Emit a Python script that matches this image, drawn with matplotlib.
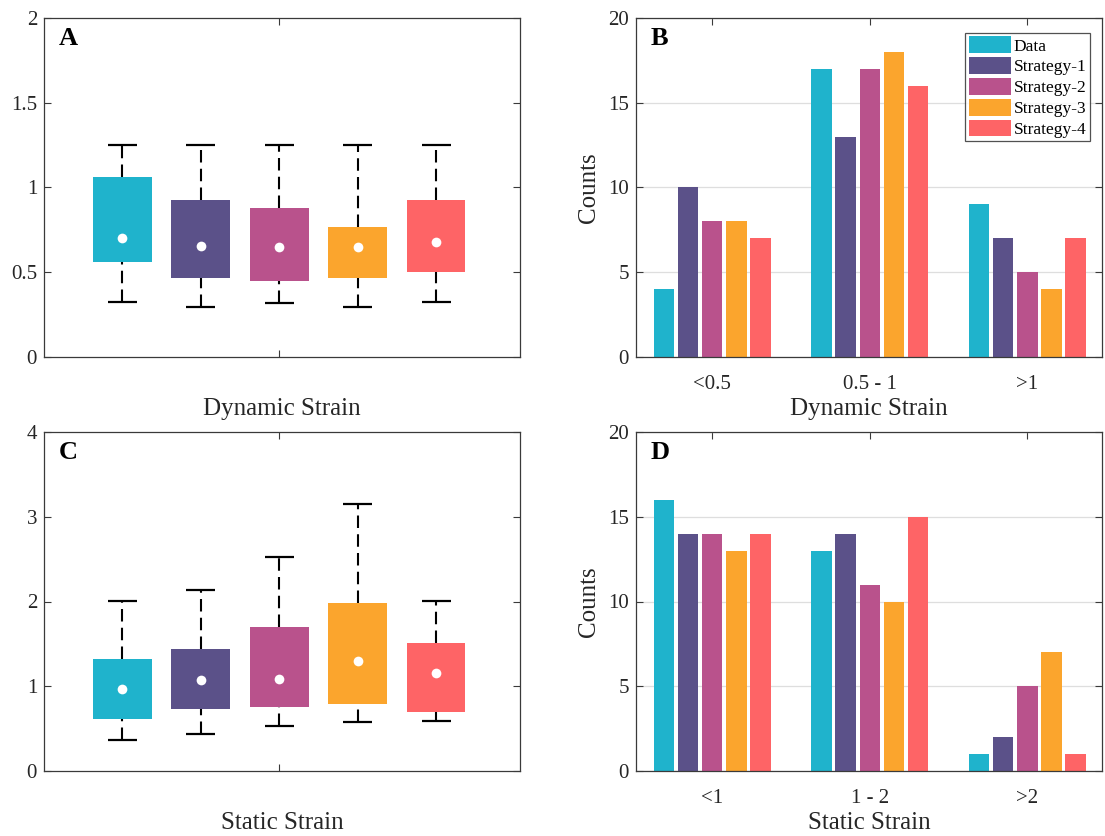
import numpy as np
import matplotlib
matplotlib.use("Agg")
import matplotlib.pyplot as plt

plt.rcParams['font.family'] = ['Liberation Serif', 'DejaVu Serif']

series_names = ["Data", "Strategy-1", "Strategy-2", "Strategy-3", "Strategy-4"]
colors = ["#1fb3cc", "#5b5189", "#b9528c", "#fba52d", "#fe6466"]

# Panel A: dynamic strain box stats
dyn_whislo = [0.325, 0.297, 0.32, 0.297, 0.325]
dyn_q1 = [0.56, 0.468, 0.45, 0.468, 0.503]
dyn_q3 = [1.06, 0.926, 0.879, 0.767, 0.926]
dyn_whishi = [1.25, 1.25, 1.25, 1.25, 1.25]
dyn_mean = [0.70, 0.657, 0.651, 0.651, 0.678]

# Panel C: static strain box stats
sta_whislo = [0.37, 0.44, 0.533, 0.584, 0.595]
sta_q1 = [0.615, 0.726, 0.761, 0.785, 0.70]
sta_q3 = [1.325, 1.44, 1.696, 1.988, 1.515]
sta_whishi = [2.01, 2.14, 2.53, 3.15, 2.01]
sta_mean = [0.967, 1.077, 1.089, 1.30, 1.16]

# Panel B: dynamic strain counts
dyn_bins = ["<0.5", "0.5 - 1", ">1"]
dyn_counts = {
    "Data": [4, 17, 9],
    "Strategy-1": [10, 13, 7],
    "Strategy-2": [8, 17, 5],
    "Strategy-3": [8, 18, 4],
    "Strategy-4": [7, 16, 7],
}
# Panel D: static strain counts
sta_bins = ["<1", "1 - 2", ">2"]
sta_counts = {
    "Data": [16, 13, 1],
    "Strategy-1": [14, 14, 2],
    "Strategy-2": [14, 11, 5],
    "Strategy-3": [13, 10, 7],
    "Strategy-4": [14, 15, 1],
}

W, H = 1105, 836
fig = plt.figure(figsize=(W / 100, H / 100), dpi=100)

def ax_at(l, t, r, b):
    return fig.add_axes([l / W, 1 - b / H, (r - l) / W, (b - t) / H])

axA = ax_at(44, 18, 520, 357)
axB = ax_at(636, 18, 1102, 357)
axC = ax_at(44, 432, 520, 771)
axD = ax_at(636, 432, 1102, 771)

TICK_FS = 15
LABEL_FS = 18
SPINE_C = "#3a3a3a"
TEXT_C = "#262626"

def style(ax):
    for s in ax.spines.values():
        s.set_color(SPINE_C)
        s.set_linewidth(0.9)
    ax.tick_params(direction='in', top=True, right=True, length=5, width=0.8,
                   color=SPINE_C, labelsize=TICK_FS, labelcolor=TEXT_C)
    ax.tick_params(axis='x', pad=13)
    ax.tick_params(axis='y', pad=5)

def boxpanel(ax, lo, q1, q3, hi, mean, ymax, yticks, ylabels, xlabel, letter):
    pos = np.arange(1, len(lo) + 1)
    bw = 0.75
    cw = 0.37
    ax.bar(pos, np.array(q3) - np.array(q1), bottom=q1, width=bw, color=colors,
           edgecolor='none', zorder=2)
    ax.vlines(pos, q3, hi, colors='black', linestyles=(0, (6, 3)), linewidth=1.5, zorder=1)
    ax.vlines(pos, lo, q1, colors='black', linestyles=(0, (6, 3)), linewidth=1.5, zorder=1)
    ax.hlines(hi, pos - cw / 2, pos + cw / 2, colors='black', linewidth=1.6, zorder=3)
    ax.hlines(lo, pos - cw / 2, pos + cw / 2, colors='black', linewidth=1.6, zorder=3)
    ax.plot(pos, mean, 'o', color='white', markersize=7, markeredgewidth=0, zorder=4)
    ax.set_xlim(0, 6.07)
    ax.set_ylim(0, ymax)
    ax.set_xticks([3])
    ax.set_xticklabels([""])
    ax.set_yticks(yticks)
    ax.set_yticklabels(ylabels)
    ax.set_xlabel(xlabel, fontsize=LABEL_FS, color=TEXT_C)
    ax.xaxis.set_label_coords(0.5, -0.121)
    ax.text(0.032, 0.973, letter, transform=ax.transAxes, fontsize=19,
            fontweight='bold', va='top', ha='left', color='black')
    style(ax)

def barpanel(ax, bins, counts, xlabel, letter, legend=False):
    x = np.arange(1, len(bins) + 1)
    step = 0.153
    bw = 0.130
    for i, name in enumerate(series_names):
        ax.bar(x + (i - 2) * step, counts[name], width=bw, color=colors[i],
               label=name, zorder=2)
    ax.set_xlim(0.516, 3.474)
    ax.set_ylim(0, 20)
    ax.set_yticks([0, 5, 10, 15, 20])
    ax.set_xticks(x)
    ax.set_xticklabels(bins)
    ax.yaxis.grid(True, color='#dedede', linewidth=0.9, zorder=0)
    ax.set_axisbelow(True)
    ax.set_xlabel(xlabel, fontsize=LABEL_FS, color=TEXT_C)
    ax.xaxis.set_label_coords(0.5, -0.121)
    ax.set_ylabel("Counts", fontsize=LABEL_FS, color=TEXT_C)
    ax.yaxis.set_label_coords(-0.077, 0.5)
    ax.text(0.032, 0.973, letter, transform=ax.transAxes, fontsize=19,
            fontweight='bold', va='top', ha='left', color='black')
    style(ax)
    if legend:
        leg = ax.legend(loc='upper right', bbox_to_anchor=(0.974, 0.956),
                        borderaxespad=0, fontsize=12.5, frameon=True,
                        fancybox=False, handlelength=2.45, handleheight=1.1,
                        labelspacing=0.15, borderpad=0.2, handletextpad=0.15)
        leg.get_frame().set_edgecolor('#262626')
        leg.get_frame().set_linewidth(0.9)
        for t in leg.get_texts():
            t.set_color('black')

boxpanel(axA, dyn_whislo, dyn_q1, dyn_q3, dyn_whishi, dyn_mean, 2,
         [0, 0.5, 1, 1.5, 2], ["0", "0.5", "1", "1.5", "2"], "Dynamic Strain", "A")
boxpanel(axC, sta_whislo, sta_q1, sta_q3, sta_whishi, sta_mean, 4,
         [0, 1, 2, 3, 4], ["0", "1", "2", "3", "4"], "Static Strain", "C")
barpanel(axB, dyn_bins, dyn_counts, "Dynamic Strain", "B", legend=True)
barpanel(axD, sta_bins, sta_counts, "Static Strain", "D")

fig.savefig("out.png", dpi=100, facecolor='white')
